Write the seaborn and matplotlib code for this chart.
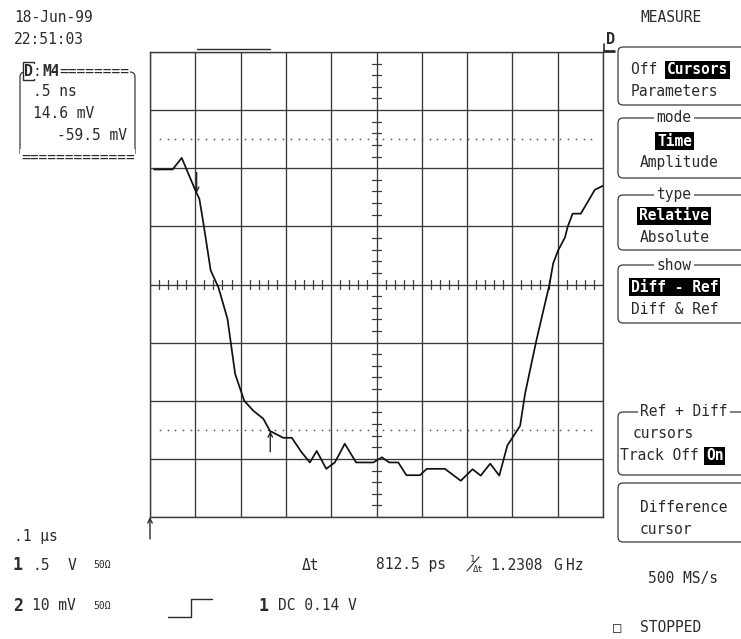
import numpy as np
import matplotlib
matplotlib.use("Agg")
import matplotlib.pyplot as plt
import seaborn as sns
from matplotlib.patches import FancyBboxPatch

# Memory trace M4: 0.5 ns/div horizontally, 14.6 mV/div vertically (relative to screen centre)
DIV_NS = 0.5
DIV_MV = 14.6
time_ns = [0.045, 0.25, 0.35, 0.50, 0.545, 0.59, 0.67, 0.755, 0.855, 0.94,
           1.04, 1.14, 1.25, 1.325, 1.47, 1.565, 1.675, 1.765, 1.84, 1.945,
           2.04, 2.15, 2.275, 2.465, 2.56, 2.64, 2.74, 2.83, 2.98, 3.055,
           3.255, 3.43, 3.56, 3.65, 3.755, 3.855, 3.945, 4.0, 4.085, 4.14,
           4.265, 4.41, 4.45, 4.505, 4.58, 4.61, 4.665, 4.755, 4.91, 5.0]
level_mv = [28.9, 28.9, 31.8, 23.7, 21.5, 15.3, 3.5, -0.7, -8.6, -22.5,
            -29.2, -31.7, -33.7, -36.8, -38.5, -38.5, -42.2, -44.7, -41.8, -46.3,
            -44.7, -40.0, -44.7, -44.7, -43.4, -44.7, -44.7, -47.9, -47.9, -46.3,
            -46.3, -49.3, -46.4, -48.0, -45.0, -48.0, -40.4, -38.5, -35.5, -27.4,
            -14.0, 0.1, 5.3, 8.6, 11.8, 14.5, 17.8, 17.8, 23.8, 24.8]

# Time cursors (reference and difference) and dotted amplitude levels
cursor_ns = [0.515, 1.3275]
dotted_levels_mv = [36.5, -36.5]

# Readouts
date_text = "18-Jun-99"
time_text = "22:51:03"
trace_readout = [".5 ns", "14.6 mV", "-59.5 mV"]
timebase_text = ".1 µs"
delta_t_text = "812.5 ps"
inv_delta_t_text = "1.2308"
sample_rate_text = "500 MS/s"

W, H = 741, 639
INK = "#2b2b2b"
GRID = "#3a3a3a"
FS = 10.5

sns.set_theme(style="white")
plt.rcParams["font.family"] = ["DejaVu Sans Mono", "DejaVu Sans"]

fig = plt.figure(figsize=(W / 100, H / 100), dpi=100)
fig.patch.set_facecolor("white")

# ---- graticule + trace ----
ax = fig.add_axes([150 / W, 1 - 517 / H, 453 / W, 465 / H])
sns.lineplot(x=time_ns, y=level_mv, ax=ax, color="#111111", lw=1.25,
             estimator=None, sort=False, zorder=4)
ax.set_xlim(0, 10 * DIV_NS)
ax.set_ylim(-4 * DIV_MV, 4 * DIV_MV)
ax.set_xticks(np.arange(0, 10 * DIV_NS + 1e-9, DIV_NS))
ax.set_yticks(np.arange(-4, 4.5, 1) * DIV_MV)
ax.grid(True, color=GRID, lw=0.95)
ax.set_axisbelow(True)
ax.tick_params(length=0, labelbottom=False, labelleft=False)
ax.set_xlabel("")
ax.set_ylabel("")
for sp in ax.spines.values():
    sp.set_color(GRID)
    sp.set_linewidth(1.0)

# minor ticks on the centre cross
xc, yc = 5 * DIV_NS, 0.0
hx = 4.5 / 45.3 * DIV_NS
hy = 4.5 / 58.1 * DIV_MV
for k in np.arange(-4, 4.01, 0.2):
    if abs(k - round(k)) > 1e-6:
        ax.plot([xc - hx, xc + hx], [k * DIV_MV] * 2, color=GRID, lw=0.9)
for k in np.arange(0, 10.01, 0.2):
    if abs(k - round(k)) > 1e-6:
        ax.plot([k * DIV_NS] * 2, [yc - hy, yc + hy], color=GRID, lw=0.9)

# dotted level lines as evenly spaced dots
dot_x = np.arange(0.11, 4.95, 0.085)
for lv in dotted_levels_mv:
    ax.plot(dot_x, np.full_like(dot_x, lv), ls="none", marker="s",
            ms=1.1, mew=0, color="#555555")

# cursor arrows on the trace
tip1 = np.interp(cursor_ns[0], time_ns, level_mv)
tip2 = np.interp(cursor_ns[1], time_ns, level_mv)
ax.annotate("", xy=(cursor_ns[0], tip1), xytext=(cursor_ns[0], tip1 + 5.2),
            arrowprops=dict(arrowstyle="->", color=INK, lw=1.0,
                            shrinkA=0, shrinkB=0, mutation_scale=8))
ax.annotate("", xy=(cursor_ns[1], tip2), xytext=(cursor_ns[1], tip2 - 5.2),
            arrowprops=dict(arrowstyle="->", color=INK, lw=1.0,
                            shrinkA=0, shrinkB=0, mutation_scale=8))
# span bar between the cursors above the grid
ax.plot(cursor_ns, [1.007, 1.007], color=INK, lw=1.0,
        transform=ax.get_xaxis_transform(), clip_on=False)

# ---- overlay in pixel coordinates ----
ov = fig.add_axes([0, 0, 1, 1], zorder=5)
ov.set_xlim(0, W)
ov.set_ylim(H, 0)
ov.axis("off")
ov.patch.set_alpha(0)


def txt(x, y, s, size=FS, **kw):
    kw.setdefault("color", INK)
    ov.text(x, y, s, fontsize=size, ha=kw.pop("ha", "left"),
            va=kw.pop("va", "center"), **kw)


def hl(x, y, s, size=FS):
    ov.text(x, y, s, fontsize=size, ha="left", va="center", color="white",
            fontweight="bold",
            bbox=dict(boxstyle="square,pad=0.12", fc="black", ec="none"))


def rbox(y0, y1, x0=618, x1=770):
    ov.add_patch(FancyBboxPatch((x0, y0), x1 - x0, y1 - y0,
                                boxstyle="round,pad=0,rounding_size=5",
                                fc="none", ec=GRID, lw=0.9, clip_on=True))


def header(x, y, s):
    ov.text(x, y, s, fontsize=FS, ha="center", va="center", color=INK,
            bbox=dict(boxstyle="square,pad=0.15", fc="white", ec="none"))


# date / time
txt(14, 17, date_text)
txt(14, 39, time_text)

# trace descriptor box
ov.add_patch(FancyBboxPatch((20, 72), 115, 85,
                            boxstyle="round,pad=0,rounding_size=5",
                            fc="none", ec=GRID, lw=0.9))
ov.text(24, 71, "D", fontsize=FS, fontweight="bold", color=INK, ha="left",
        va="center", bbox=dict(boxstyle="square,pad=0.08", fc="white", ec=INK, lw=1.0))
txt(33, 71, ":", bbox=dict(boxstyle="square,pad=0.0", fc="white", ec="none"))
txt(42, 71, "M4", fontweight="bold",
    bbox=dict(boxstyle="square,pad=0.0", fc="white", ec="none"))
txt(59, 71, "========", bbox=dict(boxstyle="square,pad=0.05", fc="white", ec="none"))
txt(21, 157, "=============", bbox=dict(boxstyle="square,pad=0.05", fc="white", ec="none"))
txt(33, 92, trace_readout[0])
txt(33, 114, trace_readout[1])
txt(57, 136, trace_readout[2])

# trace marker at top right of the grid
txt(606, 39, "D", size=11, fontweight="bold")
ov.plot([604, 614], [51, 51], color=INK, lw=2.0)
ov.plot([604, 604], [44, 51], color=INK, lw=1.2)

# trigger position arrow
ov.annotate("", xy=(150, 517), xytext=(150, 539),
            arrowprops=dict(arrowstyle="->", color=INK, lw=1.0,
                            shrinkA=0, shrinkB=0, mutation_scale=8))

# ---- right-hand menu ----
txt(671, 18, "MEASURE", ha="center")

rbox(47, 105)
txt(631, 70, "Off ")
hl(667, 70, "Cursors")
txt(631, 92, "Parameters")

rbox(118, 178)
header(674, 118, "mode")
hl(657, 141, "Time")
txt(640, 163, "Amplitude")

rbox(195, 250)
header(674, 195, "type")
hl(639, 216, "Relative")
txt(640, 238, "Absolute")

rbox(265, 323)
header(674, 265, "show")
hl(631, 287, "Diff - Ref")
txt(631, 309, "Diff & Ref")

rbox(412, 475)
header(684, 412, "Ref + Diff")
txt(633, 434, "cursors")
txt(620, 456, "Track Off ")
hl(706, 456, "On")

rbox(483, 542)
txt(640, 507, "Difference")
txt(640, 529, "cursor")

txt(648, 578, sample_rate_text)
txt(613, 628, "\u25a1", size=10)
txt(640, 628, "STOPPED")

# ---- bottom readouts ----
txt(14, 536, timebase_text)

txt(13, 565, "1", size=12, fontweight="bold")
txt(32, 565, ".5")
txt(68, 565, "V")
txt(93, 565, "50Ω", size=7)

txt(13, 606, "2", size=12, fontweight="bold")
txt(32, 606, "10 mV")
txt(93, 606, "50Ω", size=7)

ov.plot([168, 191, 191, 212], [617, 617, 599, 599], color=INK, lw=1.0)
txt(258, 606, "1", size=12, fontweight="bold")
txt(278, 606, "DC 0.14 V")

txt(302, 565, "Δt")
txt(376, 565, delta_t_text)
txt(470, 559, "1", size=6.5)
ov.plot([467, 479], [571, 557], color=INK, lw=0.8)
txt(473, 569, "Δt", size=6.5)
txt(490, 565, inv_delta_t_text)
txt(553, 565, "G")
txt(566, 565, "Hz")

fig.savefig("out.png", dpi=100, facecolor="white")
